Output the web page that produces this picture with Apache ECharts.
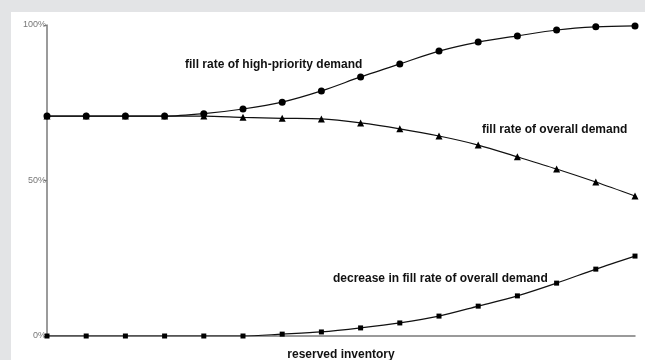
<!DOCTYPE html>
<html><head><meta charset="utf-8">
<script src="https://cdn.jsdelivr.net/npm/echarts@6/dist/echarts.min.js"></script>
<style>html,body{margin:0;padding:0;background:#e3e4e6;}#c{width:645px;height:360px;}</style>
</head><body><div id="c"></div>
<script>
var categories = ['0','1','2','3','4','5','6','7','8','9','10','11','12','13','14','15'];
var highPriority = [70.7,70.7,70.7,70.7,71.5,73.0,75.2,78.8,83.3,87.5,91.6,94.5,96.5,98.4,99.4,99.7];
var overall = [70.7,70.7,70.7,70.7,70.7,70.3,70.0,69.8,68.5,66.6,64.3,61.4,57.6,53.7,49.5,45.0];
var decrease = [0,0,0,0,0,0,0.6,1.3,2.6,4.2,6.4,9.6,12.9,17.0,21.5,25.7];
var yTicks = [0,50,100];

var chart = echarts.init(document.getElementById('c'));
var font = '"Liberation Sans", Arial, sans-serif';
function ser(data, sym, size){
  return {type:'line', data:data, smooth:0.3, symbol:sym, symbolSize:size,
    lineStyle:{color:'#111', width:1.2}, itemStyle:{color:'#000'}, animation:false, z:3};
}
chart.setOption({
  backgroundColor:'#e3e4e6',
  animation:false,
  grid:{left:47, right:10, top:25, bottom:24, containLabel:false, outerBoundsMode:'none'},
  graphic:[
    {type:'rect', shape:{x:11,y:12,width:640,height:360}, style:{fill:'#ffffff'}, z:-10, silent:true},
    {type:'text', left:185, top:59, style:{text:'fill rate of high-priority demand', font:'bold 12px '+font, fill:'#111'}, z:10},
    {type:'text', left:482, top:124, style:{text:'fill rate of overall demand', font:'bold 12px '+font, fill:'#111'}, z:10},
    {type:'text', left:333, top:273, style:{text:'decrease in fill rate of overall demand', font:'bold 12px '+font, fill:'#111'}, z:10}
  ],
  xAxis:{type:'category', data:categories, boundaryGap:false,
    name:'reserved inventory', nameLocation:'middle', nameGap:13,
    nameTextStyle:{fontFamily:font, fontWeight:'bold', fontSize:12, color:'#111'},
    axisLine:{lineStyle:{color:'#7a7a7a', width:1.5}}, axisTick:{show:false}, axisLabel:{show:false}, splitLine:{show:false}},
  yAxis:{type:'value', min:0, max:100, interval:50,
    axisLine:{show:true, lineStyle:{color:'#7a7a7a', width:1.5}},
    axisTick:{show:true, length:3, lineStyle:{color:'#7a7a7a'}},
    axisLabel:{formatter:function(v){return yTicks.indexOf(v)>=0 ? v+'%' : '';}, fontFamily:font, fontSize:9, color:'#777', margin:1},
    splitLine:{show:false}},
  series:[ser(highPriority,'circle',7), ser(overall,'triangle',7), ser(decrease,'rect',5)]
});
</script></body></html>
